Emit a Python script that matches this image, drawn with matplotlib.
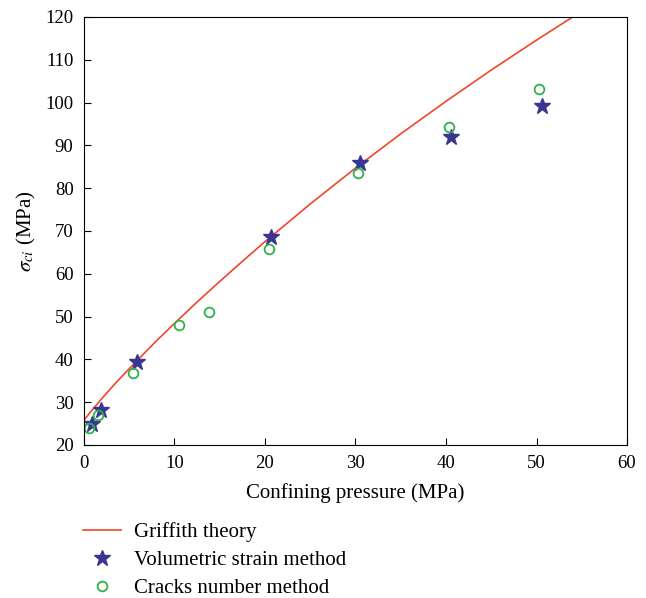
import matplotlib
matplotlib.use("Agg")
import matplotlib.pyplot as plt

# Griffith theory curve
griffith_x = [0, 1, 2, 3, 4, 6, 8, 10, 12.5, 15, 17.5, 20, 25, 30, 35, 40,
              45, 50, 54]
griffith_y = [25.8, 28.4, 30.9, 33.3, 35.6, 40.0, 44.3, 48.4, 53.4, 58.2,
              62.9, 67.5, 76.3, 84.7, 92.7, 100.3, 107.6, 114.6, 120.0]

# Volumetric strain method
vol_x = [0.9, 1.9, 5.9, 20.7, 30.5, 40.6, 50.6]
vol_y = [24.9, 28.2, 39.4, 68.6, 85.9, 92.0, 99.2]

# Cracks number method
crack_x = [0.6, 1.5, 5.4, 10.5, 13.8, 20.4, 30.3, 40.3, 50.3]
crack_y = [23.9, 27.0, 36.8, 48.0, 51.1, 65.8, 83.6, 94.3, 103.2]

plt.rcParams['font.family'] = ['Liberation Serif', 'DejaVu Serif']
plt.rcParams['mathtext.fontset'] = 'stix'

fig = plt.figure(figsize=(6.46, 5.98), dpi=100)
ax = fig.add_axes([0.130, 0.256, 0.8406, 0.7156])

ax.plot(griffith_x, griffith_y, color='#f0462a', lw=1.2, label='Griffith theory')
ax.plot(vol_x, vol_y, ls='none', marker='*', ms=12, color='#3b3592',
        label='Volumetric strain method')
ax.plot(crack_x, crack_y, ls='none', marker='o', ms=7, mfc='none',
        mec='#2db34a', mew=1.3, label='Cracks number method')

ax.set_xlim(0, 60)
ax.set_ylim(20, 120)
ax.set_xticks(range(0, 61, 10))
ax.set_yticks(range(20, 121, 10))
ax.tick_params(direction='in', labelsize=13.5, length=5, pad=7.5,
               top=False, right=False)
ax.set_xlabel('Confining pressure (MPa)', fontsize=15, labelpad=8)
ax.set_ylabel(r'$\sigma_{ci}$ (MPa)', fontsize=15, labelpad=5)

fig.legend(loc='upper left', bbox_to_anchor=(0.128, 0.127), frameon=False,
           fontsize=15, handlelength=1.85, handletextpad=0.6, labelspacing=0.4,
           borderpad=0, borderaxespad=0)

fig.savefig('out.png', dpi=100)
